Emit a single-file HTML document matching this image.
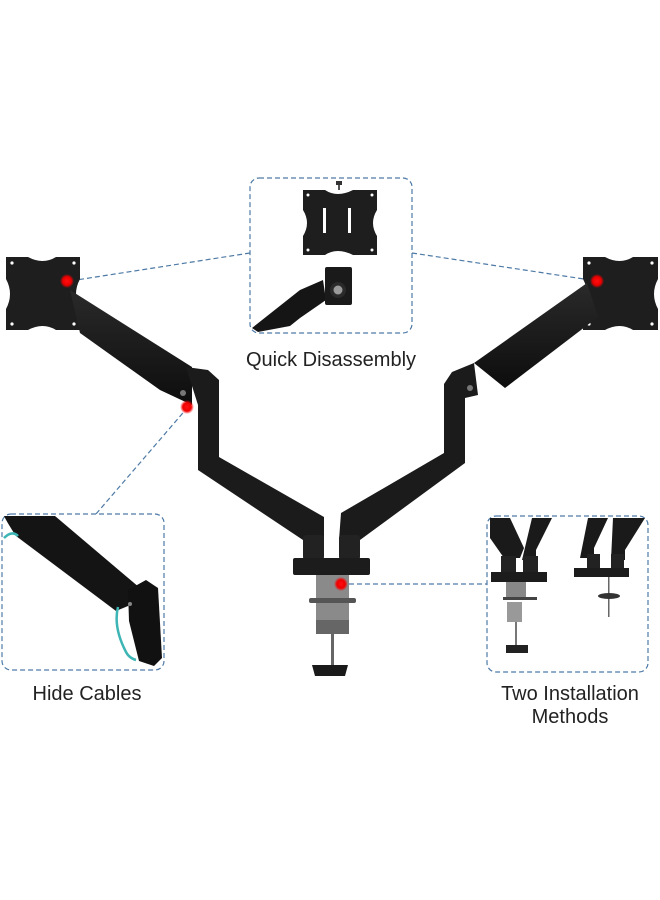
<!DOCTYPE html>
<html><head><meta charset="utf-8"><style>
html,body{margin:0;padding:0;background:#fff;}
svg{display:block}
text{font-family:"Liberation Sans",sans-serif;fill:#222;}
</style></head><body>
<svg width="660" height="900" viewBox="0 0 660 900" xmlns="http://www.w3.org/2000/svg">
<defs>
<linearGradient id="arm" x1="0" y1="0" x2="0" y2="1"><stop offset="0" stop-color="#2a2a2a"/><stop offset="1" stop-color="#0d0d0d"/></linearGradient>
<radialGradient id="red"><stop offset="0" stop-color="#ff1010"/><stop offset="0.6" stop-color="#ee0000"/><stop offset="1" stop-color="#ff0000" stop-opacity="0"/></radialGradient>
</defs>
<g fill="none" stroke="#4d7aa6" stroke-width="1.2" stroke-dasharray="5,3">
<rect x="250" y="178" width="162" height="155" rx="9"/>
<rect x="2" y="514" width="162" height="156" rx="9"/>
<rect x="487" y="516" width="161" height="156" rx="9"/>
<line x1="250" y1="253" x2="70" y2="281"/>
<line x1="412" y1="253" x2="597" y2="281"/>
<line x1="188" y1="407" x2="96" y2="514"/>
<line x1="341" y1="584" x2="487" y2="584"/>
</g>
<!-- VESA plates -->
<g fill="#1e1e1e">
<path d="M6 257 h22 q15 8 28 0 h24 v22 q-8 15 0 30 v21 h-24 q-13 -8 -28 0 h-22 v-21 q8 -15 0 -30 z"/>
<path d="M583 257 h22 q15 8 28 0 h25 v22 q-8 15 0 30 v21 h-25 q-13 -8 -28 0 h-22 v-21 q8 -15 0 -30 z"/>
<path d="M303 190 h22 q12 8 28 0 h24 v20 q-8 13 0 26 v19 h-24 q-16 -8 -28 0 h-22 v-19 q8 -13 0 -26 z"/>
</g>
<g fill="#fff">
<circle cx="12" cy="263" r="1.6"/><circle cx="74" cy="263" r="1.6"/><circle cx="12" cy="324" r="1.6"/><circle cx="74" cy="324" r="1.6"/>
<circle cx="589" cy="263" r="1.6"/><circle cx="652" cy="263" r="1.6"/><circle cx="589" cy="324" r="1.6"/><circle cx="652" cy="324" r="1.6"/>
<circle cx="308" cy="195" r="1.5"/><circle cx="372" cy="195" r="1.5"/><circle cx="308" cy="250" r="1.5"/><circle cx="372" cy="250" r="1.5"/>
<rect x="323" y="208" width="3" height="25"/><rect x="348" y="208" width="3" height="25"/>
</g>
<rect x="336" y="181" width="6" height="4" fill="#333"/><rect x="338" y="185" width="2" height="5" fill="#555"/>
<!-- top box arm -->
<path d="M252 328 L300 290 L323 280 L326 300 L300 318 L290 326 L258 332 Z" fill="#151515"/>
<rect x="325" y="267" width="27" height="38" rx="2" fill="#1a1a1a"/>
<circle cx="338" cy="290" r="8" fill="#2a2a2a"/><circle cx="338" cy="290" r="4.5" fill="#9a9a9a"/>
<!-- left arm -->
<path d="M70 290 L192 367 L192 405 L160 390 L80 333 Z" fill="url(#arm)"/>
<path d="M186 367 L208 370 L219 380 L219 457 L324 517 L324 540 L303 540 L198 470 L198 405 Z" fill="#1b1b1b"/>
<circle cx="183" cy="393" r="3" fill="#777"/>
<!-- right arm -->
<path d="M587 283 L474 363 L505 388 L598 317 Z" fill="url(#arm)"/>
<path d="M474 363 L452 372 L444 384 L444 453 L341 513 L339 540 L360 540 L465 463 L465 398 L478 395 Z" fill="#1b1b1b"/>
<circle cx="470" cy="388" r="3" fill="#777"/>
<!-- base -->
<rect x="303" y="535" width="21" height="25" rx="3" fill="#222"/>
<rect x="339" y="535" width="21" height="25" rx="3" fill="#222"/>
<rect x="293" y="558" width="77" height="17" rx="2" fill="#1c1c1c"/>
<rect x="316" y="575" width="33" height="58" fill="#8a8a8a"/>
<rect x="309" y="598" width="47" height="5" rx="2" fill="#555"/>
<rect x="316" y="620" width="33" height="14" fill="#666"/>
<rect x="331" y="633" width="3" height="32" fill="#666"/>
<path d="M312 665 h36 l-3 11 h-30 z" fill="#1a1a1a"/>
<!-- left box content -->
<path d="M4 516 q4 8 12 20 l100 75 l12 -5 l12 -18 l-85 -72 z" fill="#141414"/>
<path d="M128 590 l18 -10 l12 8 l4 70 l-8 8 l-15 -5 l-10 -40 z" fill="#111"/>
<path d="M4 538 q8 -8 14 -2 M118 607 q-5 20 8 45 q3 6 10 8" fill="none" stroke="#3db5b5" stroke-width="2.5"/>
<circle cx="130" cy="604" r="2" fill="#888"/>
<!-- right box content -->
<path d="M490 518 h20 l14 30 l-4 10 h-16 l-14 -20 z" fill="#1a1a1a"/>
<path d="M532 518 h20 l-16 32 v10 h-14 z" fill="#1a1a1a"/>
<rect x="501" y="556" width="15" height="18" fill="#222"/><rect x="523" y="556" width="15" height="18" fill="#222"/>
<rect x="491" y="572" width="56" height="10" fill="#1c1c1c"/>
<rect x="506" y="582" width="20" height="18" fill="#888"/>
<rect x="503" y="597" width="34" height="3" fill="#444"/>
<rect x="507" y="602" width="15" height="20" fill="#999"/>
<rect x="515" y="622" width="2" height="25" fill="#777"/>
<rect x="506" y="645" width="22" height="8" fill="#222"/>
<path d="M588 518 h20 l-14 30 v10 h-14 z" fill="#1a1a1a"/>
<path d="M613 518 h32 l-20 32 v10 h-14 z" fill="#1a1a1a"/>
<rect x="587" y="554" width="13" height="16" fill="#222"/><rect x="611" y="554" width="13" height="16" fill="#222"/>
<rect x="574" y="568" width="55" height="9" fill="#1c1c1c"/>
<rect x="608" y="577" width="1.5" height="40" fill="#666"/>
<ellipse cx="609" cy="596" rx="11" ry="3" fill="#333"/>
<!-- red dots -->
<circle cx="67" cy="281" r="7" fill="url(#red)"/>
<circle cx="187" cy="407" r="7" fill="url(#red)"/>
<circle cx="597" cy="281" r="7" fill="url(#red)"/>
<circle cx="341" cy="584" r="7" fill="url(#red)"/>
<text x="331" y="366" font-size="20" text-anchor="middle">Quick Disassembly</text>
<text x="87" y="700" font-size="20" text-anchor="middle">Hide Cables</text>
<text x="570" y="700" font-size="20" text-anchor="middle">Two Installation</text>
<text x="570" y="723" font-size="20" text-anchor="middle">Methods</text>
</svg>
</body></html>
